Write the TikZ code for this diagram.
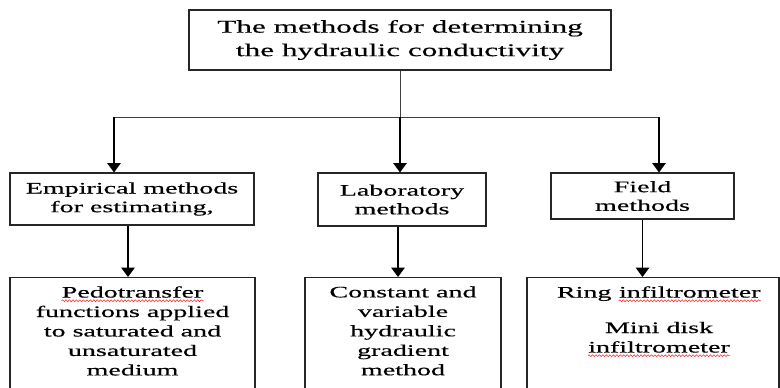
\documentclass[tikz,border=0pt]{standalone}
\usepackage{fontspec}
\setmainfont{Liberation Serif}[FakeStretch=1.75, FakeBold=0.4]
\usetikzlibrary{arrows.meta}
\usetikzlibrary{positioning}
\usetikzlibrary{decorations.pathmorphing}

\newcommand{\topfont}{\fontsize{13.4}{17.6}\selectfont}
\newcommand{\midfont}{\fontsize{12}{14}\selectfont}
\newcommand{\leaffont}{\fontsize{12}{14.6}\selectfont}
% red wavy line under a word, as the spell checker draws it
\newcommand{\spellmark}[1]{\tikz[baseline=(w.base)]{\node[inner sep=0pt] (w) {#1};
  \draw[red!85, line width=0.4pt, decorate,
        decoration={snake, amplitude=0.7pt, segment length=2.6pt}]
        ([yshift=-2.4pt]w.base west) -- ([yshift=-2.4pt]w.base east);}}

\tikzset{box/.style={     % Frame of a method box
           draw=black!85,
           line width=0.8pt,
           align=center,
           inner sep=0pt},
         leafbox/.style={ % Lower boxes, cut off by the page edge
           box,
           anchor=north,
           minimum height=100pt},
         leaftext/.style={
           font=\leaffont,
           align=center,
           inner sep=0pt},
         link/.style={    % Plain tree line
           draw=black!75,
           line width=0.75pt},
         arrow/.style={   % Line ending on a box
           draw=black,
           line width=1.1pt,
           -{Triangle[width=10pt,length=7pt]}}}

\begin{document}
\begin{tikzpicture}[x=0.75pt, y=-0.75pt]
\useasboundingbox (0,0) rectangle (780,387);
\clip (0,0) rectangle (780,387);

\node[box, font=\topfont, minimum width=316.5pt, minimum height=45pt] (methods) at (400,40)
  {The methods for determining\\the hydraulic conductivity};

\begin{scope}[every node/.style={box, font=\midfont}]
    \node[minimum width=183pt, minimum height=39pt] (empirical) at (132,199) {Empirical methods\\for estimating,};
    \node[minimum width=126pt, minimum height=39.75pt] (lab) at (402,199.5) {Laboratory\\methods};
    \node[minimum width=137.25pt, minimum height=34.5pt] (field) at (642.5,196) {Field\\methods};
\end{scope}

\begin{scope}[every node/.style={leafbox}]
    \node[minimum width=183.75pt] (pedoBox) at (132.5,277) {};
    \node[minimum width=147pt] (gradBox) at (403,277) {};
    \node[minimum width=189pt] (infBox) at (653,277) {};
\end{scope}

\node[leaftext, below=6.75pt of pedoBox.north] (pedo)
  {\spellmark{Pedotransfer}\\functions applied\\to saturated and\\unsaturated\\medium};
\node[leaftext, below=6.75pt of gradBox.north] (grad)
  {Constant and\\variable\\hydraulic\\gradient\\method};
\node[leaftext, below=6.75pt of infBox.north, xshift=4.5pt] (ring)
  {Ring \spellmark{infiltrometer}\\[12pt]Mini disk\\\spellmark{infiltrometer}};

\coordinate (hub) at (400,117);
\coordinate (hubL) at (114,117);
\coordinate (hubR) at (659,117);

\path[link] (methods) -- (hub);
\path[link] (hubL) -- (hubR);
\path[arrow] (hubL) -- (hubL |- empirical.north);
\path[arrow] (hub) -- (hub |- lab.north);
\path[arrow] (hubR) -- (hubR |- field.north);

\path[arrow] ([xshift=-3pt]empirical.south) -- ([xshift=-3pt]empirical.south |- pedoBox.north);
\path[arrow] ([xshift=-3pt]lab.south) -- ([xshift=-3pt]lab.south |- gradBox.north);
\path[arrow] (field) -- (field.south |- infBox.north);
\end{tikzpicture}
\end{document}
